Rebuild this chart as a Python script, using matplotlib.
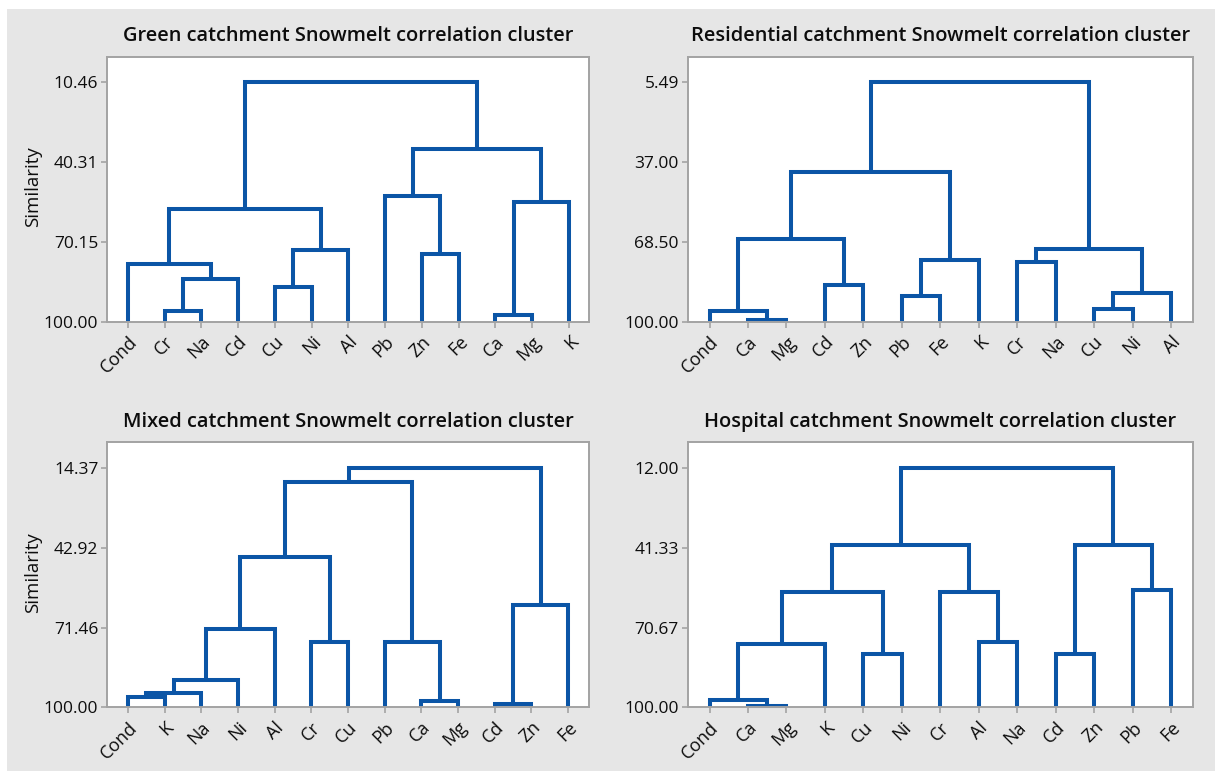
import matplotlib
matplotlib.use("Agg")
import matplotlib.pyplot as plt
from matplotlib.patches import Rectangle

# Leaf order and merge steps (left, right, similarity) for each catchment.
# Integers point back to an earlier merge in the same list.
green_leaves = ["Cond", "Cr", "Na", "Cd", "Cu", "Ni", "Al", "Pb", "Zn", "Fe", "Ca", "Mg", "K"]
green_merges = [
    ("Cr", "Na", 96.24),
    (0, "Cd", 84.22),
    ("Cond", 1, 78.59),
    ("Cu", "Ni", 87.23),
    (3, "Al", 73.08),
    (2, 4, 57.80),
    ("Zn", "Fe", 74.83),
    ("Pb", 6, 52.91),
    ("Ca", "Mg", 97.75),
    (8, "K", 55.29),
    (7, 9, 35.26),
    (5, 10, 10.46),
]
green_ticks = [10.46, 40.31, 70.15, 100.00]

resid_leaves = ["Cond", "Ca", "Mg", "Cd", "Zn", "Pb", "Fe", "K", "Cr", "Na", "Cu", "Ni", "Al"]
resid_merges = [
    ("Ca", "Mg", 99.60),
    ("Cond", 0, 96.03),
    ("Cd", "Zn", 85.72),
    (1, 2, 67.22),
    ("Pb", "Fe", 89.95),
    (4, "K", 75.68),
    (3, 5, 41.05),
    ("Cr", "Na", 76.60),
    ("Cu", "Ni", 95.11),
    (8, "Al", 88.63),
    (7, 9, 71.45),
    (6, 10, 5.49),
]
resid_ticks = [5.49, 37.00, 68.50, 100.00]

mixed_leaves = ["Cond", "K", "Na", "Ni", "Al", "Cr", "Cu", "Pb", "Ca", "Mg", "Cd", "Zn", "Fe"]
mixed_merges = [
    ("Cond", "K", 96.42),
    (0, "Na", 94.87),
    (1, "Ni", 90.33),
    (2, "Al", 72.06),
    ("Cr", "Cu", 76.80),
    (3, 4, 46.14),
    ("Ca", "Mg", 97.85),
    ("Pb", 6, 76.60),
    (5, 7, 19.27),
    ("Cd", "Zn", 98.81),
    (9, "Fe", 63.58),
    (8, 10, 14.37),
]
mixed_ticks = [14.37, 42.92, 71.46, 100.00]

hosp_leaves = ["Cond", "Ca", "Mg", "K", "Cu", "Ni", "Cr", "Al", "Na", "Cd", "Zn", "Pb", "Fe"]
hosp_merges = [
    ("Ca", "Mg", 99.70),
    ("Cond", 0, 97.17),
    (1, "K", 76.62),
    ("Cu", "Ni", 80.43),
    (2, 3, 57.79),
    ("Al", "Na", 76.00),
    ("Cr", 5, 57.60),
    (4, 6, 40.43),
    ("Cd", "Zn", 80.43),
    ("Pb", "Fe", 57.05),
    (8, 9, 40.43),
    (7, 10, 12.00),
]
hosp_ticks = [12.00, 41.33, 70.67, 100.00]

titles = [
    "Green catchment Snowmelt correlation cluster",
    "Residential catchment Snowmelt correlation cluster",
    "Mixed catchment Snowmelt correlation cluster",
    "Hospital catchment Snowmelt correlation cluster",
]

LINE = "#0b55a6"
FRAME = "#a3a3a3"
BG = "#e6e6e6"
TXT = "#0d0d0d"

plt.rcParams["font.family"] = ["Open Sans", "DejaVu Sans"]

W, H = 1215, 771
fig = plt.figure(figsize=(W / 100, H / 100), dpi=100, facecolor="white")
# grey panel behind the plots, thin white strip at top and left
fig.add_artist(Rectangle((7 / W, 0), 1 - 7 / W, 1 - 9 / H, transform=fig.transFigure,
                         facecolor=BG, edgecolor="none", zorder=-10))


def dendro(ax, leaves, merges):
    pos = {name: (i, 100.0) for i, name in enumerate(leaves)}
    for k, (a, b, h) in enumerate(merges):
        xa, ya = pos[a]
        xb, yb = pos[b]
        ax.plot([xa, xa, xb, xb], [ya, h, h, yb], color=LINE, lw=2.9,
                solid_joinstyle="miter", solid_capstyle="butt", clip_on=False)
        pos[k] = ((xa + xb) / 2, h)


panels = [
    (green_leaves, green_merges, green_ticks),
    (resid_leaves, resid_merges, resid_ticks),
    (mixed_leaves, mixed_merges, mixed_ticks),
    (hosp_leaves, hosp_merges, hosp_ticks),
]
lefts = [107.4, 688.0, 107.4, 688.0]
rights = [589.4, 1192.5, 588.6, 1192.5]
tops = [56.7, 56.7, 442.3, 442.3]
bots = [321.5, 321.5, 707.3, 707.3]

for i, (leaves, merges, ticks) in enumerate(panels):
    ax = fig.add_axes([lefts[i] / W, 1 - bots[i] / H,
                       (rights[i] - lefts[i]) / W, (bots[i] - tops[i]) / H])
    ax.set_facecolor("white")
    dendro(ax, leaves, merges)
    top = ticks[0]
    ax.set_ylim(100, top - 0.107 * (100 - top))
    ax.set_xlim(-0.56, len(leaves) - 1 + 0.56)
    ax.set_yticks(ticks)
    ax.set_yticklabels([f"{t:.2f}" for t in ticks])
    ax.set_xticks(range(len(leaves)))
    ax.set_xticklabels(leaves, rotation=45, ha="right", va="top", rotation_mode="anchor")
    ax.tick_params(axis="both", length=4, width=1.2, color=FRAME, labelsize=12.5,
                   labelcolor=TXT, pad=2.5)
    ax.tick_params(axis="x", labelsize=13, pad=4)
    for s in ax.spines.values():
        s.set_color(FRAME)
        s.set_linewidth(1.4)
    ax.set_title(titles[i], fontsize=14.4, fontweight="semibold", pad=11, color=TXT)

# y-axis label on the left column only
for yc in (187, 572.5):
    fig.text(33 / W, 1 - yc / H, "Similarity", rotation=90, ha="center", va="center",
             fontsize=13.5, color=TXT)

fig.savefig("out.png", dpi=100, facecolor=fig.get_facecolor())
